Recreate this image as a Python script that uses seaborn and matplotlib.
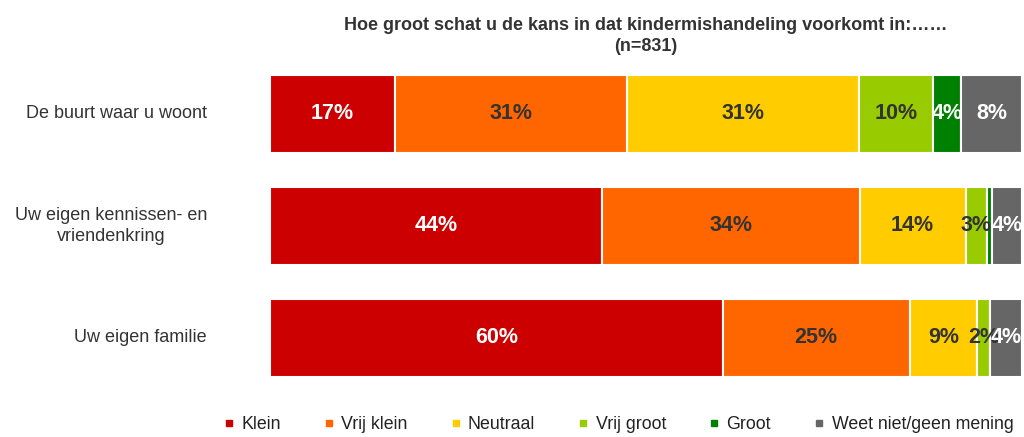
import numpy as np
import pandas as pd
import matplotlib.pyplot as plt
import seaborn as sns
from matplotlib.lines import Line2D

# data
categories = ['De buurt waar u woont', 'Uw eigen kennissen- en\nvriendenkring', 'Uw eigen familie']
series = ['Klein', 'Vrij klein', 'Neutraal', 'Vrij groot', 'Groot', 'Weet niet/geen mening']
klein = [16.5, 44.2, 60.2]
vrij_klein = [30.8, 34.2, 24.9]
neutraal = [30.6, 14.1, 8.9]
vrij_groot = [9.8, 2.8, 1.8]
groot = [3.8, 0.7, 0.0]
weet_niet = [8.0, 4.0, 4.2]
labels = [['17%', '44%', '60%'], ['31%', '34%', '25%'], ['31%', '14%', '9%'],
          ['10%', '3%', '2%'], ['4%', '', ''], ['8%', '4%', '4%']]

colors = ['#CC0000', '#FF6600', '#FFCC00', '#99CC00', '#008000', '#666666']
text_colors = ['white', '#333333', '#333333', '#333333', 'white', 'white']

sns.set_style('white')
plt.rcParams['font.family'] = ['Liberation Sans', 'DejaVu Sans']

df = pd.DataFrame({'Klein': klein, 'Vrij klein': vrij_klein,
                   'Neutraal': neutraal, 'Vrij groot': vrij_groot,
                   'Groot': groot, 'Weet niet/geen mening': weet_niet}, index=categories)
# elke rij op 100% schalen
df = df.div(df.sum(axis=1), axis=0) * 100

fig = plt.figure(figsize=(10.24, 4.37), dpi=100)
ax = fig.add_axes([0.2637, 0.0984, 0.7343, 0.769])

y = np.arange(len(categories))
left = np.zeros(len(categories))
for i, s in enumerate(series):
    vals = df[s].values
    ax.barh(y, vals, left=left, height=0.69, color=colors[i],
            edgecolor='white', linewidth=1.5)
    for j in range(len(categories)):
        if labels[i][j]:
            ax.text(left[j] + vals[j] / 2, y[j], labels[i][j], ha='center', va='center',
                    fontsize=15.5, fontweight='bold', color=text_colors[i])
    left += vals

ax.set_xlim(0, 100)
ax.set_ylim(2.5, -0.5)
ax.set_xticks([])
ax.set_yticks([])
for sp in ax.spines.values():
    sp.set_visible(False)

# categorie labels links, rechts uitgelijnd
for j, c in enumerate(categories):
    yy = 1 - (58 + 112 * j + 56) / 437
    fig.text(207 / 1024, yy, c, ha='right', va='center', fontsize=13,
             color='#333333', linespacing=1.3, multialignment='center')

ax.set_title('Hoe groot schat u de kans in dat kindermishandeling voorkomt in:……\n(n=831)',
             fontsize=13, fontweight='bold', color='#333333', pad=5, linespacing=1.3)

handles = [Line2D([0], [0], marker='s', color='none', markerfacecolor=c,
                  markeredgecolor=c, markersize=5) for c in colors]
fig.legend(handles, series, loc='center', bbox_to_anchor=(0.603, 0.028), ncol=6,
           frameon=False, fontsize=12.8, handletextpad=0.3, columnspacing=2.3,
           handlelength=0.8, labelcolor='#222222')

plt.savefig('out.png', dpi=100)
